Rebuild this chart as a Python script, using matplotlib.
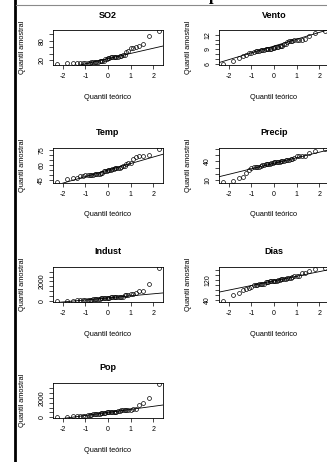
import numpy as np
import matplotlib
matplotlib.use("Agg")
import matplotlib.pyplot as plt
from matplotlib.lines import Line2D
from statistics import NormalDist

plt.rcParams['font.family'] = ['Liberation Sans', 'DejaVu Sans']

# dados de poluicao do ar (41 cidades)
so2 = [10, 13, 12, 17, 56, 36, 29, 14, 10, 24, 110, 28, 17, 8, 30, 9, 47, 35, 29, 14, 56,
       14, 11, 46, 11, 23, 65, 26, 69, 61, 94, 10, 18, 9, 10, 28, 31, 26, 29, 31, 16]
temp = [70.3, 61.0, 56.7, 51.9, 49.1, 54.0, 57.3, 68.4, 75.5, 61.5, 50.6, 52.3, 49.0, 56.6,
        55.6, 68.3, 55.0, 49.9, 43.5, 54.5, 55.9, 51.5, 56.8, 47.6, 47.1, 54.0, 49.7, 51.5,
        54.6, 50.4, 50.0, 61.6, 59.4, 66.2, 68.9, 51.0, 59.3, 57.8, 51.1, 55.2, 45.7]
indust = [213, 91, 453, 454, 412, 80, 434, 136, 207, 368, 3344, 361, 104, 125, 291, 204, 625,
          1064, 699, 381, 775, 181, 46, 44, 391, 462, 1007, 266, 1692, 347, 343, 337, 275,
          641, 721, 137, 96, 197, 379, 35, 569]
pop = [582, 132, 716, 515, 158, 80, 757, 529, 335, 497, 3369, 746, 201, 277, 593, 361, 905,
       1513, 744, 507, 622, 347, 244, 116, 463, 453, 751, 540, 1950, 520, 179, 624, 448, 844,
       1233, 176, 308, 299, 531, 71, 717]
vento = [6.0, 8.2, 8.7, 9.0, 9.0, 9.0, 9.3, 8.8, 9.0, 9.1, 10.4, 9.7, 11.2, 12.7, 8.3, 8.4,
         9.6, 10.1, 10.6, 10.0, 9.5, 10.9, 8.9, 8.8, 12.4, 7.1, 10.9, 8.6, 9.6, 9.4, 10.6, 9.2,
         7.9, 10.9, 10.8, 8.7, 10.6, 7.6, 9.4, 6.5, 11.8]
precip = [7.05, 48.52, 20.66, 12.95, 43.37, 40.25, 38.89, 54.47, 59.80, 48.34, 34.44, 38.74,
          30.85, 30.58, 43.11, 56.77, 41.31, 30.96, 25.94, 37.00, 35.89, 30.18, 7.77, 33.36,
          36.11, 39.04, 34.99, 37.01, 39.93, 36.22, 42.75, 49.10, 46.00, 35.94, 48.19, 15.17,
          44.68, 42.59, 38.79, 40.75, 29.07]
dias = [36, 100, 67, 86, 127, 114, 111, 116, 128, 115, 122, 121, 103, 82, 123, 113, 111, 129,
        137, 99, 105, 98, 58, 135, 166, 132, 155, 134, 115, 147, 125, 105, 119, 78, 103, 89,
        116, 115, 164, 148, 123]

# titulos, ticks e rotulos do eixo y (R omite rotulos sobrepostos)
titles = ["SO2", "Vento", "Temp", "Precip", "Indust", "Dias", "Pop"]
series = [so2, vento, temp, precip, indust, dias, pop]
yticks = [
    [20, 40, 60, 80, 100],
    [6, 7, 8, 9, 10, 11, 12],
    [45, 50, 55, 60, 65, 70, 75],
    [10, 20, 30, 40, 50, 60],
    [0, 500, 1000, 1500, 2000, 2500, 3000],
    [40, 60, 80, 100, 120, 140, 160],
    [0, 500, 1000, 1500, 2000, 2500, 3000],
]
ylabels = [
    ["20", "", "", "80", ""],
    ["6", "", "", "9", "", "", "12"],
    ["45", "", "", "60", "", "", "75"],
    ["10", "", "", "40", "", ""],
    ["0", "", "", "", "2000", "", ""],
    ["40", "", "", "", "120", "", ""],
    ["0", "", "", "", "2000", "", ""],
]
xticks = [-2, -1, 0, 1, 2]

W, H = 327, 462
fig = plt.figure(figsize=(W / 100, H / 100), dpi=100)

row_tops = [30, 148, 267, 383]
col_lefts = [53, 219]
ax_w, ax_h = 110, 35

nd = NormalDist()


def ext(lo, hi):
    d = (hi - lo) * 0.04
    return lo - d, hi + d


def qq_panel(ax, y, title, yt, yl):
    y = np.sort(np.asarray(y, dtype=float))
    n = len(y)
    p = (np.arange(1, n + 1) - 0.5) / n
    x = np.array([nd.inv_cdf(v) for v in p])

    ax.plot(x, y, 'o', mfc='none', mec='black', ms=2.8, mew=0.5)

    # qqline pelos quartis
    yq = np.quantile(y, [0.25, 0.75])
    xq = np.array([nd.inv_cdf(0.25), nd.inv_cdf(0.75)])
    slope = (yq[1] - yq[0]) / (xq[1] - xq[0])
    inter = yq[0] - slope * xq[0]

    xlim = ext(x.min(), x.max())
    ylim = ext(y.min(), y.max())
    xx = np.array(xlim)
    ax.plot(xx, inter + slope * xx, color='black', lw=0.6)
    ax.set_xlim(xlim)
    ax.set_ylim(ylim)

    ax.set_xticks(xticks)
    ax.set_xticklabels([str(t) for t in xticks])
    ax.set_yticks(yt)
    ax.set_yticklabels(yl, rotation=90, va='center')
    ax.tick_params(direction='out', length=3, width=0.5, labelsize=5, pad=2.5)
    for s in ax.spines.values():
        s.set_linewidth(0.6)

    ax.set_title(title, fontsize=6.5, fontweight='bold', pad=9)
    ax.annotate("Quantil teórico", xy=(0.5, 0), xycoords='axes fraction',
                xytext=(0, -32), textcoords='offset pixels',
                ha='center', va='center', fontsize=5.3)
    ax.annotate("Quantil amostral", xy=(0, 0.5), xycoords='axes fraction',
                xytext=(-31, 0), textcoords='offset pixels',
                ha='center', va='center', rotation=90, fontsize=5.3)


for i, (title, y, yt, yl) in enumerate(zip(titles, series, yticks, ylabels)):
    row, col = divmod(i, 2)
    left, top = col_lefts[col], row_tops[row]
    ax = fig.add_axes([left / W, 1 - (top + ax_h) / H, ax_w / W, ax_h / H])
    qq_panel(ax, y, title, yt, yl)

# moldura do documento
fig.add_artist(Line2D([15 / W, 15 / W], [0, 1], color='black', lw=2.0))
fig.add_artist(Line2D([16 / W, 1], [1 - 5 / H, 1 - 5 / H], color='#8a8a8a', lw=0.8))
fig.text(209 / W, 1 + 0.5 / H, "p", family='Liberation Serif', fontweight='bold',
         fontsize=12, ha='left', va='baseline')

fig.savefig("out.png", dpi=100)
